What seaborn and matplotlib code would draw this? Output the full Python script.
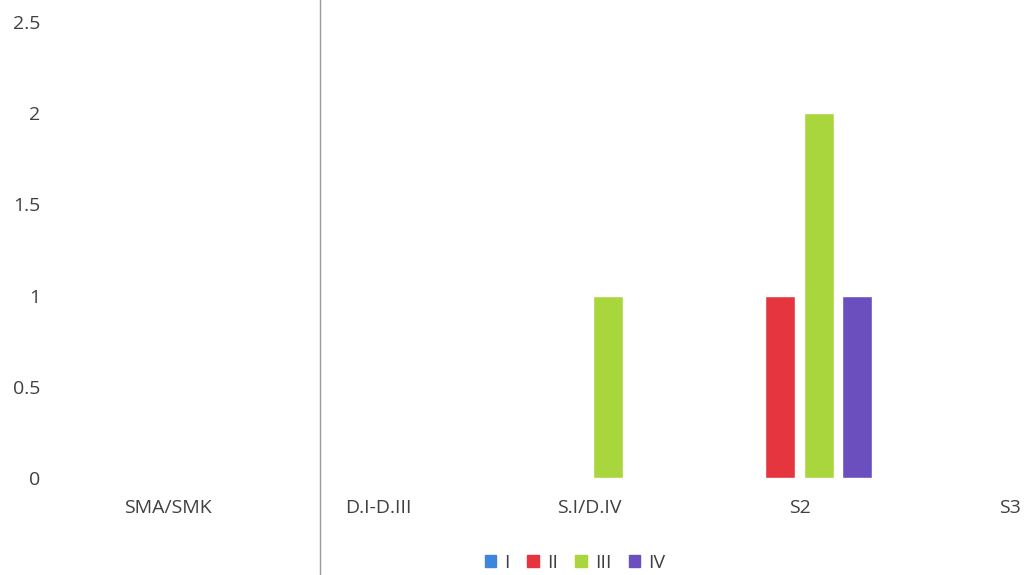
import matplotlib
matplotlib.use("Agg")
import matplotlib.pyplot as plt
import seaborn as sns
import pandas as pd
from matplotlib.lines import Line2D

categories = ["SMA/SMK", "D.I-D.III", "S.I/D.IV", "S2", "S3"]
series = ["I", "II", "III", "IV"]
values_I = [0, 0, 0, 0, 0]
values_II = [0, 0, 0, 1, 0]
values_III = [0, 0, 1, 2, 0]
values_IV = [0, 0, 0, 1, 0]
yticks = [0, 0.5, 1, 1.5, 2, 2.5]
ytick_labels = ["0", "0.5", "1", "1.5", "2", "2.5"]
colors = ["#3d86dc", "#e5353f", "#a9d63c", "#6b4fbf"]

rows = []
for s, vals in zip(series, [values_I, values_II, values_III, values_IV]):
    for c, v in zip(categories, vals):
        rows.append({"cat": c, "series": s, "value": v})
df = pd.DataFrame(rows)

sns.set_theme(style="white")
plt.rcParams["font.family"] = ["Open Sans", "DejaVu Sans"]

fig = plt.figure(figsize=(10.26, 5.75), dpi=100)
W, H = 1026, 575
left_px = 168 - 0.5 * 210.5
right_px = 168 + 4.5 * 210.5
ax = fig.add_axes([left_px / W, (H - 478) / H, (right_px - left_px) / W, (478 - 22) / H])

sns.barplot(data=df, x="cat", y="value", hue="series", order=categories,
            hue_order=series, palette=colors, width=0.733, gap=0.22,
            saturation=1, ax=ax, legend=True)

ax.set_xlim(-0.5, 4.5)
ax.set_ylim(0, 2.5)
ax.set_yticks(yticks)
ax.set_yticklabels(ytick_labels)
ax.set_xlabel("")
ax.set_ylabel("")
for sp in ax.spines.values():
    sp.set_visible(False)
ax.tick_params(axis="x", length=0, pad=15, labelsize=14, labelcolor="#404040")
ax.tick_params(axis="y", length=0, pad=16, labelsize=14, labelcolor="#404040")
ax.grid(False)

ax.add_line(Line2D([0.72, 0.72], [-0.55, 2.65], color="#9a9a9a", lw=1.0,
                   clip_on=False))

leg = ax.get_legend()
leg.remove()
handles = [plt.Rectangle((0, 0), 1, 1, color=c) for c in colors]
fig.legend(handles, series, loc="center", bbox_to_anchor=(575 / W, 1 - 563 / H),
           ncol=4, frameon=False, fontsize=14, handlelength=0.6, handleheight=0.6,
           handletextpad=0.4, columnspacing=0.9, labelcolor="#404040")

fig.savefig("out.png", dpi=100)
